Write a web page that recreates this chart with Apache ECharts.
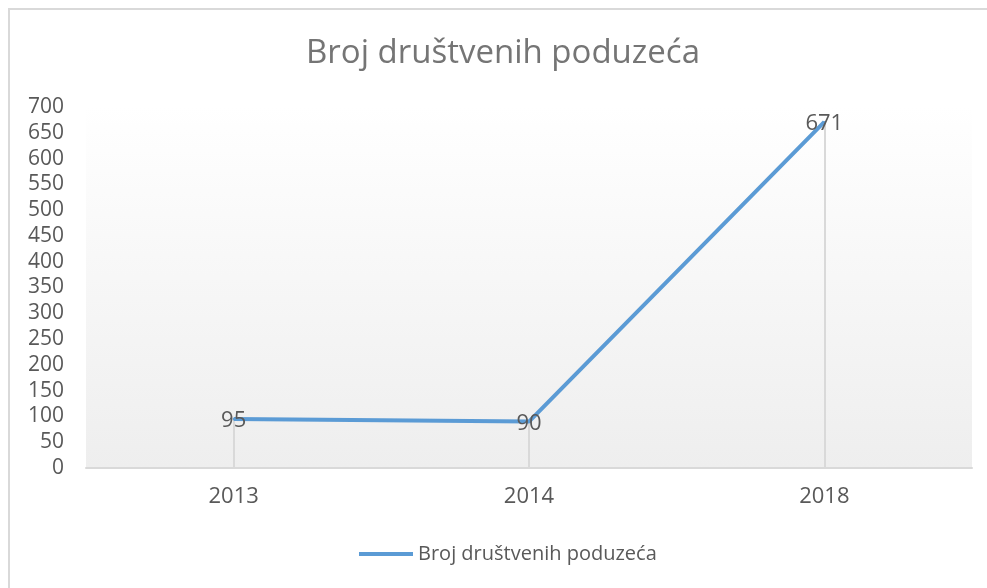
<!DOCTYPE html>
<html>
<head>
<meta charset="utf-8">
<script src="https://cdn.jsdelivr.net/npm/echarts@6/dist/echarts.min.js"></script>
<style>
  html, body { margin: 0; padding: 0; background: #fff; }
  #chart { width: 987px; height: 588px; }
</style>
</head>
<body>
<div id="chart"></div>
<script>
// podaci
var categories = ["2013", "2014", "2018"];
var values = [95, 90, 671];
var seriesName = "Broj društvenih poduzeća";

var font = "Open Sans";
var textColor = "#595959";

// okomite linije od točke do osi
var dropLines = categories.map(function (c, i) {
    return [{ coord: [c, values[i]] }, { coord: [c, 0] }];
});

var chart = echarts.init(document.getElementById("chart"));

chart.setOption({
    backgroundColor: "#fff",
    animation: false,
    graphic: [{
        type: "rect",
        shape: { x: 9, y: 9, width: 1200, height: 1000 },
        style: { fill: "none", stroke: "#d9d9d9", lineWidth: 2 },
        z: -1
    }],
    title: {
        text: seriesName,
        left: 301,
        top: 32,
        textStyle: { fontFamily: font, fontSize: 33, fontWeight: "normal", color: "#757575" }
    },
    legend: {
        bottom: 19,
        left: 354,
        itemWidth: 54,
        itemHeight: 4,
        itemGap: 5,
        icon: "rect",
        textStyle: { fontFamily: font, fontSize: 20, color: textColor },
        data: [seriesName]
    },
    grid: {
        left: 86, right: 15, top: 107, bottom: 120,
        show: true,
        borderWidth: 0,
        backgroundColor: {
            type: "linear", x: 0, y: 0, x2: 0, y2: 1,
            colorStops: [{ offset: 0, color: "#ffffff" }, { offset: 1, color: "#eeeeee" }]
        }
    },
    xAxis: {
        type: "category",
        data: categories,
        boundaryGap: true,
        axisLine: { lineStyle: { color: "#d9d9d9", width: 2 } },
        axisTick: { show: false },
        axisLabel: { fontFamily: font, fontSize: 22, color: textColor, margin: 18 },
        splitLine: { show: false }
    },
    yAxis: {
        type: "value",
        min: 0, max: 700, interval: 50,
        axisLine: { show: false },
        axisTick: { show: false },
        splitLine: { show: false },
        axisLabel: { fontFamily: font, fontSize: 21, color: textColor, margin: 22 }
    },
    series: [{
        name: seriesName,
        type: "line",
        data: values,
        symbol: "circle",
        symbolSize: 2,
        showSymbol: true,
        lineStyle: { color: "#5b9bd5", width: 4 },
        itemStyle: { color: "#5b9bd5" },
        label: {
            show: true,
            position: "top",
            distance: 0,
            offset: [0, 14],
            fontFamily: font, fontSize: 22, color: textColor
        },
        markLine: {
            silent: true,
            symbol: "none",
            label: { show: false },
            lineStyle: { color: "#d9d9d9", width: 2, type: "solid" },
            data: dropLines,
            z: 1
        },
        z: 3
    }]
});
</script>
</body>
</html>
